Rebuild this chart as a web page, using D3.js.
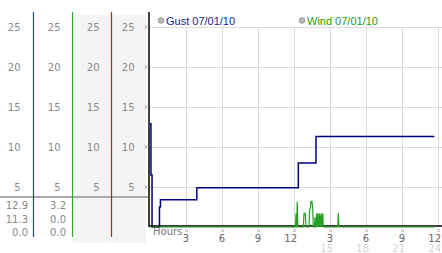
<!DOCTYPE html>
<html>
<head>
<meta charset="utf-8">
<script src="https://cdn.jsdelivr.net/npm/d3@7"></script>
<style>
	body { margin: 0; background: #fff; }
	svg { display: block; }
</style>
</head>
<body>
<div class="canvas"></div>
<script>
var width = 442,
	height = 253;

// ---------- data ----------
var y_ticks = [5, 10, 15, 20, 25];
var x_ticks = [3, 6, 9, 12, 15, 18, 21, 24];
var x_labels = ["3", "6", "9", "12", "3", "6", "9", "12"];
var x_labels2 = ["", "", "", "", "15", "18", "21", "24"];
var legend_names = ["Gust 07/01/10", "Wind 07/01/10"];
var stats_gust = ["12.9", "11.3", "0.0"];
var stats_wind = ["3.2", "0.0", "0.0"];

// gust (hours, value), drawn as steps
var gust = [
	[0, 12.9], [0.08, 6.5], [0.17, 0], [0.79, 2.5], [0.87, 3.4],
	[3.9, 4.9], [12.36, 8.0], [13.83, 11.3], [23.7, 11.3]
];

// wind (hours, value)
var wind = [
	[0, 0], [12.12, 0], [12.17, 1.7], [12.22, 0], [12.23, 0], [12.27, 3.2], [12.32, 0],
	[12.78, 0], [12.83, 1.7], [12.94, 1.7], [12.99, 0],
	[13.25, 0], [13.3, 2.2], [13.36, 2.3], [13.42, 3.2], [13.5, 3.2], [13.56, 2.2], [13.61, 0],
	[13.7, 0], [13.75, 1.2], [13.8, 0],
	[13.85, 0], [13.89, 1.7], [13.93, 0], [13.99, 1.7], [14.03, 0], [14.13, 1.7], [14.17, 0],
	[14.27, 1.7], [14.31, 0], [14.4, 1.7], [14.44, 0],
	[15.64, 0], [15.69, 1.7], [15.74, 0],
	[23.7, 0]
];

var canvas = d3.select(".canvas")
	.append("svg")
	.attr('width', width)
	.attr('height', height);

var scale_x = d3.scaleLinear()
	.domain([0, 24])
	.range([150, 438]);

var scale_y = d3.scaleLinear()
	.domain([0, 25])
	.range([227, 27]);

var tick_font = "DejaVu Sans, sans-serif";

/* ---------- left panel ---------- */
var cols = [
	{x: 0, w: 33, bg: "#fff", line: "#1f3fb4"},
	{x: 33, w: 39, bg: "#fff", line: "#2ea82e"},
	{x: 72, w: 39, bg: "#f4f4f4", line: "#b42424"},
	{x: 111, w: 35, bg: "#f4f4f4", line: null}
];

cols.forEach(function(c, i) {
	if (c.bg !== "#fff") {
		canvas.append("rect")
			.attr("x", c.x + 1)
			.attr("y", 15)
			.attr("width", c.w - 1)
			.attr("height", 228)
			.attr("fill", c.bg);
	}
	var right = c.x + (i == 0 ? 20.5 : c.w - 11.5);
	canvas.selectAll(".lt" + i)
		.data(y_ticks)
		.enter()
		.append("text")
		.attr("x", right)
		.attr("y", function(d) { return scale_y(d) + 3.5; })
		.attr("text-anchor", "end")
		.attr("font-family", tick_font)
		.attr("font-size", 10)
		.attr("fill", "#888")
		.text(function(d) { return d; });
});

canvas.append("line")
	.attr("x1", 0).attr("x2", 148)
	.attr("y1", 197).attr("y2", 197)
	.attr("stroke", "#aaa")
	.attr("stroke-width", 2);

cols.forEach(function(c) {
	if (!c.line) return;
	canvas.append("line")
		.attr("x1", c.x + c.w + 0.5).attr("x2", c.x + c.w + 0.5)
		.attr("y1", 12).attr("y2", 237)
		.attr("stroke", c.line)
		.attr("stroke-width", 1.2);
});

[stats_gust, stats_wind].forEach(function(s, i) {
	canvas.selectAll(".st" + i)
		.data(s)
		.enter()
		.append("text")
		.attr("x", i == 0 ? 28 : 66)
		.attr("y", function(d, j) { return 209 + j * 13.5; })
		.attr("text-anchor", "end")
		.attr("font-family", tick_font)
		.attr("font-size", 10)
		.attr("fill", "#888")
		.text(function(d) { return d; });
});

/* ---------- grid ---------- */
canvas.selectAll(".hgrid")
	.data(y_ticks)
	.enter()
	.append("line")
	.attr("x1", 150).attr("x2", width)
	.attr("y1", function(d) { return Math.round(scale_y(d)) + 0.5; })
	.attr("y2", function(d) { return Math.round(scale_y(d)) + 0.5; })
	.attr("stroke", "#dadada");

canvas.selectAll(".vgrid")
	.data(x_ticks)
	.enter()
	.append("line")
	.attr("x1", function(d) { return Math.round(scale_x(d)) + 0.5; })
	.attr("x2", function(d) { return Math.round(scale_x(d)) + 0.5; })
	.attr("y1", scale_y(25)).attr("y2", scale_y(0))
	.attr("stroke", "#dadada");

// small tick glyphs
function mark(x, y) {
	var g = canvas.append("g").attr("transform", "translate(" + x + "," + y + ")");
	g.append("path")
		.attr("d", "M-1.5,-1.5L1.5,1.5M1.5,-1.5L-1.5,1.5")
		.attr("stroke", "#aaa")
		.attr("stroke-width", 0.9);
}

y_ticks.forEach(function(d) { mark(146, scale_y(d)); });
x_ticks.forEach(function(d) { mark(Math.round(scale_x(d)) + 0.5, 230.5); });

/* ---------- series ---------- */
var line = d3.line()
	.x(function(d) { return scale_x(d[0]); })
	.y(function(d) { return scale_y(d[1]); });

canvas.append("path")
	.datum(gust)
	.attr("d", line.curve(d3.curveStepAfter))
	.attr("fill", "none")
	.attr("stroke", "#000080")
	.attr("stroke-width", 1.5);

// axes
canvas.append("line")
	.attr("x1", 149).attr("x2", width)
	.attr("y1", 226).attr("y2", 226)
	.attr("stroke", "#000")
	.attr("stroke-width", 1.5);

canvas.append("path")
	.datum(wind)
	.attr("d", d3.line()
		.x(function(d) { return scale_x(d[0]); })
		.y(function(d) { return scale_y(d[1]); })(wind))
	.attr("fill", "none")
	.attr("stroke", "#22a022")
	.attr("stroke-width", 1.2);

canvas.append("line")
	.attr("x1", 149).attr("x2", 149)
	.attr("y1", 12).attr("y2", 227)
	.attr("stroke", "#000")
	.attr("stroke-width", 1.5);

/* ---------- x labels ---------- */
canvas.append("text")
	.attr("x", 153)
	.attr("y", 235)
	.attr("font-family", tick_font)
	.attr("font-size", 10)
	.attr("fill", "#777")
	.text("Hours");

canvas.selectAll(".xl")
	.data(x_ticks)
	.enter()
	.append("text")
	.attr("x", function(d) { return Math.round(scale_x(d)) + 3; })
	.attr("y", 242)
	.attr("text-anchor", "end")
	.attr("font-family", tick_font)
	.attr("font-size", 10)
	.attr("fill", "#666")
	.text(function(d, i) { return x_labels[i]; });

canvas.selectAll(".xl2")
	.data(x_ticks)
	.enter()
	.append("text")
	.attr("x", function(d) { return Math.round(scale_x(d)) + 3; })
	.attr("y", 251.5)
	.attr("text-anchor", "end")
	.attr("font-family", tick_font)
	.attr("font-size", 10)
	.attr("fill", "#d4d4d4")
	.text(function(d, i) { return x_labels2[i]; });

/* ---------- legend ---------- */
var legend_x = [161, 302];
var legend_col = ["#1c1c8c", "#1a9a1a"];
legend_names.forEach(function(n, i) {
	canvas.append("circle")
		.attr("cx", legend_x[i])
		.attr("cy", 20.5)
		.attr("r", 2.8)
		.attr("fill", "#bbb")
		.attr("stroke", "#888")
		.attr("stroke-width", 0.8);
	canvas.append("text")
		.attr("x", legend_x[i] + 5)
		.attr("y", 24.5)
		.attr("font-family", "Liberation Sans, Arial, sans-serif")
		.attr("font-size", 11)
		.attr("fill", legend_col[i])
		.text(n);
});
</script>
</body>
</html>
